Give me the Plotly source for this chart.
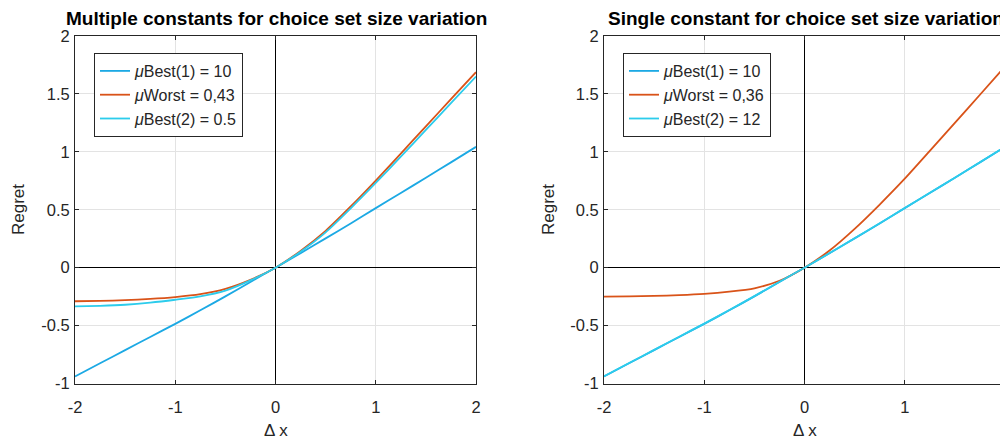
import plotly.graph_objects as go

# ---- data ----
dx = [-2, -1.75, -1.5, -1.25, -1, -0.75, -0.5, -0.25, 0, 0.25, 0.5, 0.75, 1, 1.25, 1.5, 1.75, 2]

left_best1 = [-0.94, -0.825, -0.712, -0.598, -0.485, -0.368, -0.248, -0.123, 0, 0.125, 0.253, 0.382, 0.514, 0.645, 0.776, 0.909, 1.043]
left_worst = [-0.29, -0.287, -0.281, -0.27, -0.254, -0.229, -0.183, -0.105, 0, 0.145, 0.318, 0.528, 0.752, 0.985, 1.22, 1.455, 1.688]
left_best2 = [-0.334, -0.329, -0.32, -0.302, -0.277, -0.248, -0.198, -0.11, 0, 0.138, 0.305, 0.512, 0.731, 0.958, 1.189, 1.42, 1.65]

right_best1 = [-0.94, -0.825, -0.712, -0.598, -0.485, -0.368, -0.248, -0.123, 0, 0.125, 0.253, 0.382, 0.514, 0.645, 0.776, 0.909, 1.043]
right_worst = [-0.25, -0.248, -0.244, -0.237, -0.226, -0.207, -0.178, -0.113, 0, 0.148, 0.335, 0.545, 0.768, 1.008, 1.25, 1.493, 1.737]
right_best2 = [-0.938, -0.823, -0.71, -0.596, -0.483, -0.366, -0.246, -0.122, 0, 0.126, 0.254, 0.383, 0.515, 0.646, 0.777, 0.91, 1.044]

left_names = ["<i>μ</i>Best(1) = 10", "<i>μ</i>Worst = 0,43", "<i>μ</i>Best(2) = 0.5"]
right_names = ["<i>μ</i>Best(1) = 10", "<i>μ</i>Worst = 0,36", "<i>μ</i>Best(2) = 12"]
titles = ["Multiple constants for choice set size variation",
          "Single constant for choice set size variation"]
xticks = [-2, -1, 0, 1, 2]
xticklabels = ["-2", "-1", "0", "1", "2"]
yticks = [-1, -0.5, 0, 0.5, 1, 1.5, 2]
yticklabels = ["-1", "-0.5", "0", "0.5", "1", "1.5", "2"]

colors = ["#1CA9E4", "#D95319", "#2CCCEC"]
FONT = "Liberation Sans, Arial, sans-serif"
TXT = "#262626"

fig = go.Figure()

for i, ys in enumerate([left_best1, left_worst, left_best2]):
    fig.add_trace(go.Scatter(x=dx, y=ys, mode="lines", name=left_names[i],
                             line=dict(color=colors[i], width=1.8, shape="spline", smoothing=0.6),
                             xaxis="x", yaxis="y", legend="legend"))
for i, ys in enumerate([right_best1, right_worst, right_best2]):
    fig.add_trace(go.Scatter(x=dx, y=ys, mode="lines", name=right_names[i],
                             line=dict(color=colors[i], width=1.8, shape="spline", smoothing=0.6),
                             xaxis="x2", yaxis="y2", legend="legend2"))

# the page body has an 8px margin: the figure is placed at (8, 8) in the window
OX, OY = 8, 8
W, H = 1000, 431


def px(xr):
    return (xr - OX) / W


def py(yr):
    return (H - (yr - OY)) / H


L_dom = [px(75), px(476)]
R_dom = [px(604), px(1005)]
Y_dom = [py(383.5), py(36)]

axis_common = dict(
    automargin=False,
    showline=True, linecolor=TXT, linewidth=1, mirror="ticks",
    ticks="inside", ticklen=4, tickcolor=TXT,
    showgrid=True, gridcolor="#E3E3E3", gridwidth=1,
    zeroline=True, zerolinecolor="black", zerolinewidth=1,
    tickfont=dict(family=FONT, size=16.5, color=TXT),
)

fig.update_layout(
    width=W, height=H,
    margin=dict(l=0, r=0, t=0, b=0, autoexpand=False),
    paper_bgcolor="white", plot_bgcolor="white",
    font=dict(family=FONT, color=TXT),
    xaxis=dict(domain=L_dom, range=[-2, 2], tickvals=xticks, ticktext=xticklabels, anchor="y",
               ticklabelstandoff=9, **axis_common),
    yaxis=dict(domain=Y_dom, range=[-1, 2], tickvals=yticks, ticktext=yticklabels, anchor="x",
               ticklabelstandoff=1, **axis_common),
    xaxis2=dict(domain=R_dom, range=[-2, 2], tickvals=xticks, ticktext=xticklabels, anchor="y2",
                ticklabelstandoff=9, **axis_common),
    yaxis2=dict(domain=Y_dom, range=[-1, 2], tickvals=yticks, ticktext=yticklabels, anchor="x2",
                ticklabelstandoff=1, **axis_common),
    legend=dict(x=px(94), y=py(53), xanchor="left", yanchor="top",
                bgcolor="white", bordercolor=TXT, borderwidth=1,
                font=dict(family=FONT, size=16, color=TXT), tracegroupgap=0),
    legend2=dict(x=px(623), y=py(53), xanchor="left", yanchor="top",
                 bgcolor="white", bordercolor=TXT, borderwidth=1,
                 font=dict(family=FONT, size=16, color=TXT), tracegroupgap=0),
    showlegend=True,
)

annos = [
    dict(text="<b>" + titles[0] + "</b>", x=px(276), y=py(19), size=19, color="black"),
    dict(text="<b>" + titles[1] + "</b>", x=px(806), y=py(19), size=19, color="black"),
    dict(text="Δ x", x=px(276), y=py(430), size=17, color=TXT),
    dict(text="Δ x", x=px(805), y=py(430), size=17, color=TXT),
]
for a in annos:
    fig.add_annotation(xref="paper", yref="paper", xanchor="center", yanchor="middle",
                       showarrow=False, text=a["text"], x=a["x"], y=a["y"],
                       font=dict(family=FONT, size=a["size"], color=a["color"]))
for xc in [18, 548]:
    fig.add_annotation(xref="paper", yref="paper", x=px(xc), y=py(210),
                       text="Regret", textangle=-90, showarrow=False,
                       xanchor="center", yanchor="middle",
                       font=dict(family=FONT, size=17, color=TXT))

fig.write_html("out.html")
